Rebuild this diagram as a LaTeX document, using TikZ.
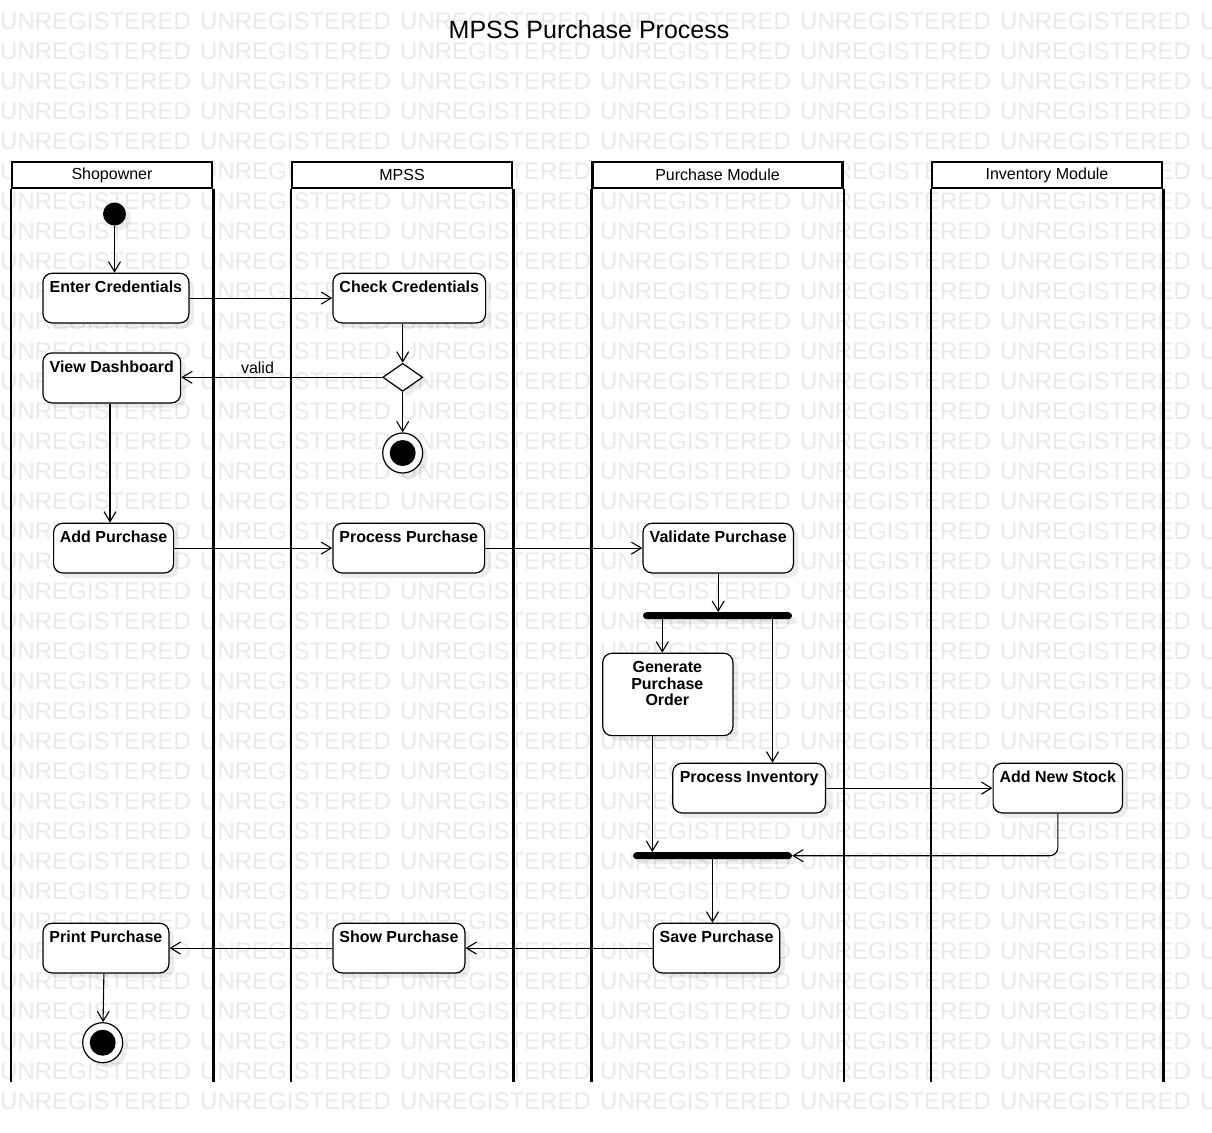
\documentclass[tikz,border=0pt]{standalone}
\usepackage{fontspec}
\setmainfont{Liberation Sans}
\usetikzlibrary{arrows.meta,shapes.geometric,shadows}
\definecolor{wm}{RGB}{234,234,234}
\begin{document}
\begin{tikzpicture}[x=1pt,y=-1pt,
  wmark/.style={anchor=west,inner sep=0pt,text=wm,font=\fontsize{24}{24}\selectfont},
  lanehead/.style={draw,line width=2.5pt,fill=white,minimum height=26pt,inner sep=0pt,font=\fontsize{16}{18}\selectfont},
  laneline/.style={line width=2.5pt},
  myshadow/.style={drop shadow={shadow xshift=5pt,shadow yshift=-5pt,fill=black,opacity=0.07}},
  act/.style={draw,line width=1.2pt,rounded corners=9pt,fill=white,inner sep=0pt,anchor=north west,myshadow},
  acttext/.style={font=\bfseries\fontsize{16}{16.5}\selectfont,inner sep=0pt,anchor=base},
  lbl/.style={font=\fontsize{16}{18}\selectfont,inner sep=0pt,anchor=base},
  flow/.style={line width=1.1pt,-{Straight Barb[length=10pt,width=12pt]}},
  bar/.style={fill=black,rounded corners=3.5pt,minimum height=7pt,inner sep=0pt,myshadow},
  startnode/.style={circle,fill=black,minimum size=23pt,inner sep=0pt,myshadow},
  endouter/.style={circle,draw,line width=1.2pt,fill=white,minimum size=40pt,inner sep=0pt,myshadow},
  endinner/.style={circle,fill=black,minimum size=26pt,inner sep=0pt},
  decision/.style={diamond,draw,line width=1.2pt,fill=white,minimum width=40pt,minimum height=28pt,inner sep=0pt,myshadow},
]
\useasboundingbox (0,0) rectangle (1212,1132);
\fill[white] (0,0) rectangle (1212,1132);

% watermark
\foreach \r in {0,...,36} {
  \foreach \c in {0,...,6} {
    \node[wmark] (w\r-\c) at (200*\c, 21+30*\r) {UNREGISTERED};
  }
}

% title
\node[font=\fontsize{25}{26}\selectfont,inner sep=0pt] (title) at (589,30) {MPSS Purchase Process};

% lanes
\coordinate (bot) at (0,1082);
\node[lanehead,minimum width=200pt] (h1) at (112,175) {Shopowner};
\node[lanehead,minimum width=220pt] (h2) at (402,175) {MPSS};
\node[lanehead,minimum width=250pt] (h3) at (717.5,175) {Purchase Module};
\node[lanehead,minimum width=230pt] (h4) at (1047,175) {Inventory Module};
\foreach \h in {h1,h2,h3,h4} {
  \draw[laneline] (\h.south west) -- (\h.south west |- bot);
  \draw[laneline] (\h.south east) -- (\h.south east |- bot);
}

% shopowner column
\node[startnode] (start) at (114.5,214) {};
\node[act,minimum width=146pt,minimum height=49.6pt] (ec) at (42.3,272.7) {};
\node[acttext] (ect) at ([yshift=-19.7pt]ec.north) {Enter Credentials};
\node[act,minimum width=137.7pt,minimum height=50pt] (vd) at (42.3,352.3) {};
\node[acttext] (vdt) at ([yshift=-19.7pt]vd.north) {View Dashboard};
\node[act,minimum width=120pt,minimum height=49.6pt] (ap) at (53,522.7) {};
\node[acttext] (apt) at ([yshift=-19.7pt]ap.north) {Add Purchase};
\node[act,minimum width=126pt,minimum height=49.6pt] (prn) at (42.3,922.7) {};
\node[acttext] (prnt) at ([yshift=-19.7pt]prn.north) {Print Purchase};
\node[endouter] (fin2) at (102.7,1042.7) {};
\node[endinner] (fin2i) at (fin2) {};

% MPSS column
\node[act,minimum width=152.7pt,minimum height=49.6pt] (cc) at (332.3,272.7) {};
\node[acttext] (cct) at ([yshift=-19.7pt]cc.north) {Check Credentials};
\node[decision] (dec) at (402.7,377.3) {};
\node[endouter] (fin1) at (402.7,453) {};
\node[endinner] (fin1i) at (fin1) {};
\node[act,minimum width=151.7pt,minimum height=49.6pt] (prp) at (332.3,522.7) {};
\node[acttext] (prpt) at ([yshift=-19.7pt]prp.north) {Process Purchase};
\node[act,minimum width=132pt,minimum height=49.6pt] (shw) at (332.3,922.7) {};
\node[acttext] (shwt) at ([yshift=-19.7pt]shw.north) {Show Purchase};

% Purchase module column
\node[act,minimum width=150.4pt,minimum height=49.6pt] (vp) at (642.4,522.7) {};
\node[acttext] (vpt) at ([yshift=-19.7pt]vp.north) {Validate Purchase};
\node[bar,minimum width=149pt] (bar1) at (717.5,615.7) {};
\node[act,minimum width=130.1pt,minimum height=82.3pt] (gen) at (602.2,652.7) {};
\node[font=\bfseries\fontsize{16}{16.5}\selectfont,align=center,inner sep=0pt] (gent) at (667.3,683.6) {Generate\\Purchase\\Order};
\node[act,minimum width=152.7pt,minimum height=49.6pt] (pi) at (672.2,762.7) {};
\node[acttext] (pit) at ([yshift=-19.7pt]pi.north) {Process Inventory};
\node[bar,minimum width=159pt] (bar2) at (712.5,855.7) {};
\node[act,minimum width=126.6pt,minimum height=49.6pt] (sv) at (652.6,922.7) {};
\node[acttext] (svt) at ([yshift=-19.7pt]sv.north) {Save Purchase};

% Inventory module column
\node[act,minimum width=129.4pt,minimum height=49.6pt] (ans) at (992.5,762.7) {};
\node[acttext] (anst) at ([yshift=-19.7pt]ans.north) {Add New Stock};

% helper x positions
\coordinate (g1) at (662.3,0);
\coordinate (g2) at (772.5,0);
\coordinate (g3) at (652.3,0);
\coordinate (g4) at (110,0);

% connectors
\draw[flow] (start) -- (start |- ec.north);
\draw[flow] (ec) -- (cc);
\draw[flow] (dec.north |- cc.south) -- (dec.north);
\draw[flow] (dec.west) -- (dec.west -| vd.east);
\node[lbl] (valid) at (257.5,373.5) {valid};
\draw[flow] (dec) -- (fin1);
\draw[flow] (vd.south -| g4) -- (ap.north -| g4);
\draw[flow] (ap) -- (prp);
\draw[flow] (prp) -- (vp);
\draw[flow] (vp.south) -- (vp.south |- bar1.north);
\draw[flow] (bar1.south -| g1) -- (gen.north -| g1);
\draw[flow] (bar1.south -| g2) -- (pi.north -| g2);
\draw[flow] (gen.south -| g3) -- (bar2.north -| g3);
\draw[flow] (pi) -- (ans);
\draw[flow,rounded corners=8pt] (ans.south) |- (bar2.east);
\draw[flow] (bar2.south) -- (bar2.south |- sv.north);
\draw[flow] (sv) -- (shw);
\draw[flow] (shw) -- (prn);
\draw[flow] ([xshift=-2pt]prn.south) -- (fin2);
\end{tikzpicture}
\end{document}
